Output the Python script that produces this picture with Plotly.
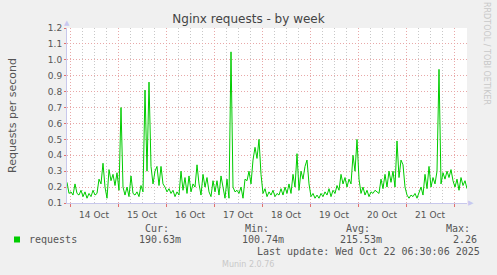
import pandas as pd
import plotly.graph_objects as go

# ---- data (hourly samples) ----
start_time = "2025-10-13 22:30"
requests = [
    0.23, 0.16, 0.17, 0.15, 0.22, 0.16, 0.15, 0.18, 0.14, 0.17,
    0.13, 0.16, 0.14, 0.18, 0.15, 0.16, 0.25, 0.22, 0.35, 0.20,
    0.13, 0.31, 0.24, 0.28, 0.21, 0.29, 0.18, 0.70, 0.20, 0.15,
    0.20, 0.14, 0.27, 0.16, 0.15, 0.17, 0.14, 0.21, 0.17, 0.81,
    0.30, 0.86, 0.33, 0.22, 0.30, 0.33, 0.21, 0.33, 0.22, 0.20,
    0.17, 0.19, 0.16, 0.18, 0.14, 0.17, 0.15, 0.30, 0.18, 0.26,
    0.16, 0.27, 0.17, 0.22, 0.20, 0.34, 0.22, 0.15, 0.28, 0.20,
    0.26, 0.17, 0.14, 0.24, 0.17, 0.24, 0.15, 0.27, 0.20, 0.13,
    0.25, 0.13, 1.05, 0.20, 0.17, 0.18, 0.16, 0.20, 0.13, 0.25,
    0.24, 0.30, 0.22, 0.37, 0.45, 0.38, 0.50, 0.28, 0.16, 0.19,
    0.14, 0.17, 0.15, 0.18, 0.14, 0.16, 0.15, 0.19, 0.15, 0.20,
    0.16, 0.22, 0.16, 0.28, 0.20, 0.41, 0.18, 0.30, 0.25, 0.33,
    0.37, 0.22, 0.14, 0.16, 0.13, 0.15, 0.13, 0.16, 0.14, 0.17,
    0.15, 0.19, 0.14, 0.18, 0.16, 0.21, 0.18, 0.28, 0.22, 0.26,
    0.20, 0.25, 0.22, 0.40, 0.30, 0.50, 0.25, 0.16, 0.20, 0.15,
    0.18, 0.14, 0.17, 0.16, 0.18, 0.17, 0.16, 0.25, 0.19, 0.28,
    0.20, 0.30, 0.23, 0.30, 0.20, 0.49, 0.26, 0.37, 0.34, 0.20,
    0.15, 0.13, 0.15, 0.14, 0.16, 0.13, 0.17, 0.20, 0.15, 0.28,
    0.19, 0.33, 0.20, 0.26, 0.22, 0.30, 0.94, 0.22, 0.29, 0.25,
    0.30, 0.26, 0.31, 0.24, 0.20, 0.25, 0.18, 0.26, 0.21, 0.24,
    0.19,
]
times = pd.date_range(start_time, periods=len(requests), freq="h")

title_text = "Nginx requests - by week"
y_title = "Requests per second"
legend_name = "requests"
stat_labels = ["Cur:", "Min:", "Avg:", "Max:"]
stat_values = ["190.63m", "100.74m", "215.53m", "2.26"]
last_update = "Last update: Wed Oct 22 06:30:06 2025"
footer = "Munin 2.0.76"
side_text = "RRDTOOL / TOBI OETIKER"

# ---- layout geometry (pixels) ----
W, H = 497, 275
L, R, T, B = 67, 467, 28, 203
PW, PH = R - L, B - T


def px(xp):
    return (xp - L) / PW


def py(yp):
    return (B - yp) / PH


GREEN = "#00CC00"
TXT = "#555555"
MAJ = "#E8A8A8"
MIN = "#C8C8C8"
AXIS = "#C8C8EC"

fig = go.Figure()
fig.add_trace(go.Scatter(
    x=times, y=requests, mode="lines",
    line=dict(color=GREEN, width=1.0), name=legend_name,
    showlegend=False,
))

fig.update_layout(
    width=W, height=H,
    margin=dict(l=L, r=W - R, t=T, b=H - B),
    paper_bgcolor="#F0F0F0",
    plot_bgcolor="#FFFFFF",
    font=dict(family="DejaVu Sans", color=TXT, size=9),
    title=dict(text=title_text, x=0.5, xref="container", xanchor="center",
               y=1 - 19 / H, yref="container", yanchor="middle",
               font=dict(size=12, color="#444444", family="DejaVu Sans")),
)

fig.update_xaxes(
    type="date",
    range=[times[0], times[-1]],
    dtick=86400000,
    tick0="2025-10-14",
    ticklabelmode="period",
    tickformat="%d %b",
    ticks="outside", ticklen=3, tickcolor="#E07070",
    showgrid=True, gridcolor=MAJ, griddash="1px,2px", gridwidth=1,
    minor=dict(dtick=6 * 3600 * 1000, showgrid=True, gridcolor=MIN,
               griddash="1px,2px", gridwidth=1, ticks=""),
    showline=True, linecolor=AXIS, linewidth=1,
    tickfont=dict(size=9, color=TXT),
    zeroline=False,
)
fig.update_yaxes(
    range=[0.1, 1.2],
    dtick=0.1, tick0=0.1, tickformat=".1f",
    ticks="outside", ticklen=2, tickcolor="#E07070",
    showgrid=True, gridcolor=MAJ, griddash="1px,2px", gridwidth=1,
    showline=True, linecolor=AXIS, linewidth=1,
    tickfont=dict(size=9, color=TXT),
    zeroline=False,
)

ann = []
# y axis title
ann.append(dict(text=y_title, xref="paper", yref="paper", x=px(12), y=py(115),
                textangle=-90, showarrow=False, xanchor="center", yanchor="middle",
                font=dict(size=11, color=TXT)))
# side credit
ann.append(dict(text=side_text, xref="paper", yref="paper", x=px(487), y=py(53),
                textangle=90, showarrow=False, xanchor="center", yanchor="middle",
                font=dict(size=8, color="#C8C8C8")))
# axis arrows
ann.append(dict(text="▲", xref="paper", yref="paper", x=px(67), y=py(23),
                showarrow=False, xanchor="center", yanchor="middle",
                font=dict(size=7, color="#C8C8F0")))
ann.append(dict(text="▶", xref="paper", yref="paper", x=px(471), y=py(203),
                showarrow=False, xanchor="center", yanchor="middle",
                font=dict(size=7, color="#C8C8F0")))

mono = dict(family="DejaVu Sans Mono", size=10, color=TXT)
ann.append(dict(text=legend_name, xref="paper", yref="paper", x=px(27), y=py(239),
                showarrow=False, xanchor="left", yanchor="middle", font=mono))
lab_x = [157, 257, 358, 458]
val_x = [160, 263, 361, 465]
for lx, vx, lab, val in zip(lab_x, val_x, stat_labels, stat_values):
    ann.append(dict(text=lab, xref="paper", yref="paper", x=px(lx), y=py(228),
                    showarrow=False, xanchor="center", yanchor="middle", font=mono))
    ann.append(dict(text=val, xref="paper", yref="paper", x=px(vx), y=py(239),
                    showarrow=False, xanchor="center", yanchor="middle", font=mono))
ann.append(dict(text=last_update, xref="paper", yref="paper", x=px(482), y=py(251),
                showarrow=False, xanchor="right", yanchor="middle", font=mono))
ann.append(dict(text=footer, xref="paper", yref="paper", x=px(248), y=py(264),
                showarrow=False, xanchor="center", yanchor="middle",
                font=dict(family="DejaVu Sans", size=8, color="#C8C8C8")))
fig.update_layout(annotations=ann)

# legend colour swatch
fig.add_shape(type="rect", xref="paper", yref="paper",
              x0=px(14), x1=px(20), y0=py(242.5), y1=py(236.5),
              fillcolor=GREEN, line=dict(width=0))

fig.write_html("out.html")
